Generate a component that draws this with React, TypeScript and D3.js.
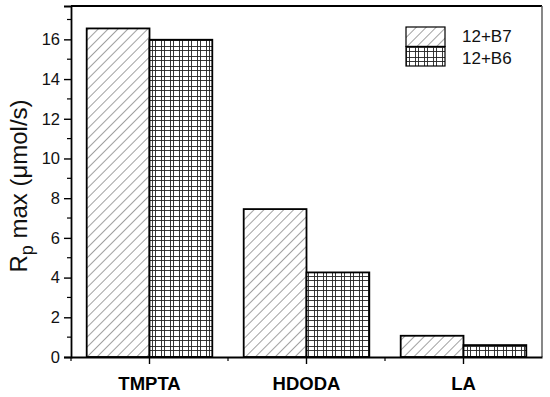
import React, { useEffect, useRef } from 'react';
import * as d3 from 'd3';

// Chart data
const categories = ['TMPTA', 'HDODA', 'LA'];
const seriesNames = ['12+B7', '12+B6'];
const valuesB7 = [16.55, 7.45, 1.07];
const valuesB6 = [15.98, 4.26, 0.6];
const yTicks = [0, 2, 4, 6, 8, 10, 12, 14, 16];

const WIDTH = 550;
const HEIGHT = 397;
const margin = { top: 6, right: 8, bottom: 40, left: 71 };
const FONT = 'Arial, "Liberation Sans", sans-serif';

const App = () => {
  const chartRef = useRef<SVGSVGElement>(null);

  useEffect(() => {
    const svg = d3.select(chartRef.current);
    svg.selectAll('*').remove();

    const chartWidth = WIDTH - margin.left - margin.right;
    const chartHeight = HEIGHT - margin.top - margin.bottom;

    // Patterns
    const defs = svg.append('defs');
    const hatch = defs.append('pattern')
      .attr('id', 'hatch')
      .attr('patternUnits', 'userSpaceOnUse')
      .attr('width', 7)
      .attr('height', 7)
      .attr('patternTransform', 'rotate(45)');
    hatch.append('rect').attr('width', 7).attr('height', 7).attr('fill', '#fff');
    hatch.append('line')
      .attr('x1', 0).attr('y1', 0).attr('x2', 0).attr('y2', 7)
      .attr('stroke', '#444').attr('stroke-width', 1);

    const grid = defs.append('pattern')
      .attr('id', 'grid')
      .attr('patternUnits', 'userSpaceOnUse')
      .attr('width', 9)
      .attr('height', 10);
    grid.append('rect').attr('width', 9).attr('height', 10).attr('fill', '#fff');
    [0.5, 3.5].forEach(x => {
      grid.append('line')
        .attr('x1', x).attr('x2', x).attr('y1', 0).attr('y2', 10)
        .attr('stroke', '#222').attr('stroke-width', 0.9);
    });
    [0.5, 4.5].forEach(y => {
      grid.append('line')
        .attr('y1', y).attr('y2', y).attr('x1', 0).attr('x2', 9)
        .attr('stroke', '#222').attr('stroke-width', 0.9);
    });

    const g = svg.append('g')
      .attr('transform', `translate(${margin.left},${margin.top})`);

    // Scales
    const xScale = d3.scaleBand()
      .domain(categories)
      .range([0, chartWidth])
      .padding(0);

    const xInner = d3.scaleBand()
      .domain(seriesNames)
      .range([xScale.bandwidth() * 0.1, xScale.bandwidth() * 0.9])
      .padding(0);

    const yScale = d3.scaleLinear()
      .domain([0, 17.68])
      .range([chartHeight, 0]);

    const series = [
      { name: seriesNames[0], values: valuesB7, fill: 'url(#hatch)' },
      { name: seriesNames[1], values: valuesB6, fill: 'url(#grid)' }
    ];

    // Bars
    series.forEach(s => {
      g.selectAll(null)
        .data(categories)
        .enter().append('rect')
        .attr('x', d => (xScale(d) ?? 0) + (xInner(s.name) ?? 0))
        .attr('y', (d, i) => yScale(s.values[i]))
        .attr('width', xInner.bandwidth())
        .attr('height', (d, i) => chartHeight - yScale(s.values[i]))
        .attr('fill', s.fill)
        .attr('stroke', '#000')
        .attr('stroke-width', 1.8);
    });

    // Frame
    g.append('line')
      .attr('x1', 0).attr('x2', chartWidth).attr('y1', 0).attr('y2', 0)
      .attr('stroke', '#000').attr('stroke-width', 1.8);
    g.append('line')
      .attr('x1', chartWidth).attr('x2', chartWidth).attr('y1', 0).attr('y2', chartHeight)
      .attr('stroke', '#555').attr('stroke-width', 1.4);

    // Y axis
    const yAxis = g.append('g')
      .call(d3.axisLeft(yScale).tickValues(yTicks).tickSize(7).tickPadding(4).tickFormat(d3.format('d')));
    yAxis.select('.domain').attr('stroke-width', 1.8).attr('stroke', '#000');
    yAxis.selectAll('.tick line').attr('stroke-width', 1.4);
    yAxis.selectAll('text')
      .style('font-family', FONT)
      .style('font-size', '16.5px')
      .attr('fill', '#111');

    // Y minor ticks
    g.append('g').selectAll('line')
      .data(d3.range(1, 18, 2))
      .enter().append('line')
      .attr('x1', -4).attr('x2', 0)
      .attr('y1', d => yScale(d)).attr('y2', d => yScale(d))
      .attr('stroke', '#000').attr('stroke-width', 1.2);

    // X axis
    const xAxis = g.append('g')
      .attr('transform', `translate(0,${chartHeight})`)
      .call(d3.axisBottom(xScale).tickSize(7).tickPadding(12.6).tickSizeOuter(0));
    xAxis.select('.domain').attr('stroke-width', 1.8).attr('stroke', '#000');
    xAxis.selectAll('.tick line').attr('stroke-width', 1.4);
    xAxis.selectAll('text')
      .style('font-family', FONT)
      .style('font-size', '18.5px')
      .style('font-weight', 'bold')
      .attr('fill', '#000');

    // X minor ticks at band edges
    g.append('g').selectAll('line')
      .data(categories)
      .enter().append('line')
      .attr('x1', d => xScale(d) ?? 0).attr('x2', d => xScale(d) ?? 0)
      .attr('y1', chartHeight).attr('y2', chartHeight + 4)
      .attr('stroke', '#000').attr('stroke-width', 1.2);

    // Y axis label
    const label = g.append('text')
      .attr('transform', `translate(${27 - margin.left},${186 - margin.top}) rotate(-90)`)
      .attr('text-anchor', 'middle')
      .style('font-family', FONT)
      .style('font-size', '24px')
      .attr('fill', '#111');
    label.append('tspan').text('R');
    label.append('tspan').attr('dy', 6).style('font-size', '18px').text('p');
    label.append('tspan').attr('dy', -6).text(' max (\u03BCmol/s)');

    // Legend
    const legend = g.append('g')
      .attr('transform', `translate(${406 - margin.left},${27 - margin.top})`);
    series.forEach((s, i) => {
      legend.append('rect')
        .attr('x', 0).attr('y', i * 19.5)
        .attr('width', 39).attr('height', 19.5)
        .attr('fill', s.fill)
        .attr('stroke', '#000').attr('stroke-width', 1.2);
      legend.append('text')
        .attr('x', 56).attr('y', i * 21.6 + 15)
        .style('font-family', FONT)
        .style('font-size', '17px')
        .attr('fill', '#111')
        .text(s.name);
    });
  }, []);

  return (
    <svg
      ref={chartRef}
      width={WIDTH}
      height={HEIGHT}
      style={{ position: 'absolute', left: 0, top: 0, background: '#fff' }}
    />
  );
};

export default App;
